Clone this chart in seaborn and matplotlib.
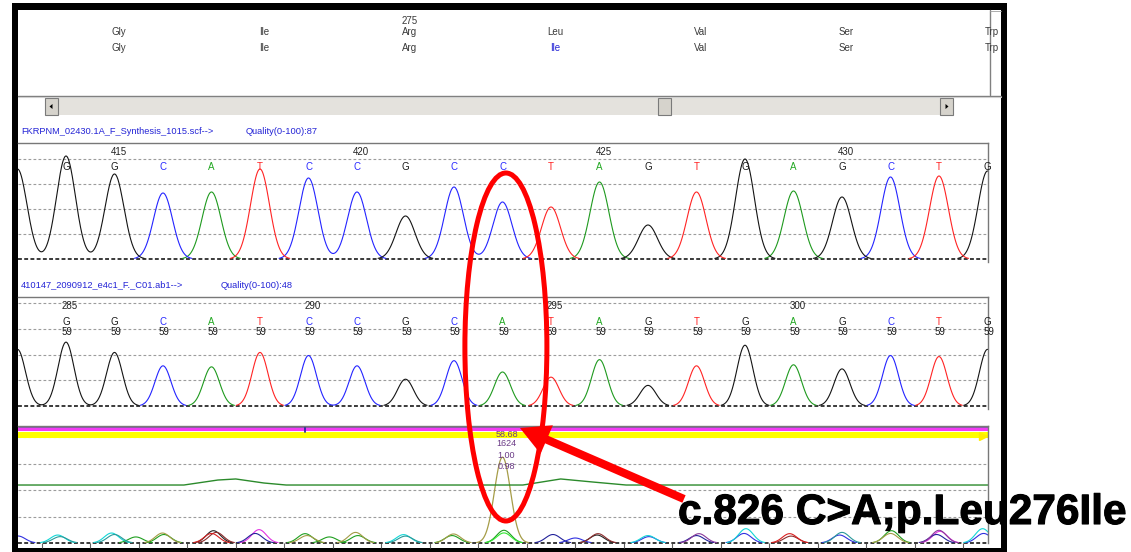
import numpy as np
import pandas as pd
import matplotlib
matplotlib.use("Agg")
import matplotlib.pyplot as plt
import matplotlib.transforms as mtransforms
import matplotlib.patheffects as pe
from matplotlib.patches import Rectangle, Ellipse, Polygon
import seaborn as sns

sns.set_theme(style="white")
plt.rcParams['font.family'] = ['Liberation Sans', 'DejaVu Sans']

# ---------------- data ----------------
aa_reference = ["Gly", "Ile", "Arg", "Leu", "Val", "Ser", "Trp"]
aa_sample = ["Gly", "Ile", "Arg", "Ile", "Val", "Ser", "Trp"]
aa_changed = [False, False, False, True, False, False, False]
aa_number = "275"
aa_number_codon = 2

ref_title = "FKRPNM_02430.1A_F_Synthesis_1015.scf-->"
ref_quality = "Quality(0-100):87"
ref_bases = list("GGCATCCGCCTAGTGAGCTG")
ref_heights = [1.03, 0.85, 0.66, 0.67, 0.90, 0.81, 0.67, 0.43, 0.72, 0.57,
               0.52, 0.77, 0.34, 0.67, 1.00, 0.68, 0.62, 0.82, 0.83, 0.88]
ref_lead = ("G", 0.90)
ref_ruler = [415, 420, 425, 430]
ref_ruler_idx = [1, 6, 11, 16]

smp_title = "410147_2090912_e4c1_F._C01.ab1-->"
smp_quality = "Quality(0-100):48"
smp_bases = list("GGCATCCGCATAGTGAGCTG")
smp_heights = [0.62, 0.52, 0.39, 0.38, 0.52, 0.49, 0.39, 0.26, 0.44, 0.33,
               0.28, 0.45, 0.20, 0.39, 0.59, 0.40, 0.36, 0.49, 0.48, 0.55]
smp_lead = ("G", 0.55)
smp_qv = [59] * 20
smp_ruler = [285, 290, 295, 300]
smp_ruler_idx = [0, 5, 10, 15]

mut_idx = 9
mut_stats = ["58.68", "1624", "1.00", "0.98"]
mut_peak_height = 0.81
green_x = [-1.0, 2.43, 3.13, 3.5, 4.08, 4.54, 9.42, 10.2, 10.87, 11.55, 19.1]
green_y = [0.547, 0.547, 0.594, 0.604, 0.566, 0.547, 0.547, 0.604, 0.575, 0.547, 0.547]

hump_pos = [-0.99, -0.17, -0.12, 0.94, 1.0, 1.44, 1.99, 2.02, 3.04, 3.0, 3.1, 3.98, 3.9,
            4.93, 4.97, 5.43, 5.97, 6.02, 6.96, 7.0, 7.99, 7.96, 9.03, 9.03, 10.04, 10.5,
            10.97, 10.95, 12.0, 12.02, 13.05, 13.0, 14.02, 13.98, 14.92, 14.95, 16.0, 15.95,
            17.02, 17.0, 18.0, 18.02, 17.95, 18.9, 18.92]
hump_h = [0.066, 0.075, 0.06, 0.094, 0.08, 0.057, 0.094, 0.08, 0.116, 0.09, 0.10, 0.126, 0.09,
          0.088, 0.07, 0.057, 0.10, 0.07, 0.079, 0.065, 0.085, 0.07, 0.12, 0.095, 0.08, 0.047,
          0.088, 0.075, 0.07, 0.06, 0.088, 0.07, 0.135, 0.09, 0.088, 0.065, 0.10, 0.075,
          0.116, 0.09, 0.12, 0.11, 0.08, 0.135, 0.09]
hump_col = ['blue', 'cyan', 'teal', 'cyan', 'teal', 'green', 'olive', 'green', 'black', 'red',
            'brown', 'magenta', 'navy', 'green', 'olive', 'green', 'olive', 'green', 'cyan', 'teal',
            'olive', 'green', 'green', 'lime', 'navy', 'blue', 'brown', 'black', 'cyan', 'blue',
            'purple', 'navy', 'cyan', 'blue', 'red', 'brown', 'teal', 'blue', 'green', 'olive',
            'purple', 'magenta', 'navy', 'cyan', 'blue']

annotation = "c.826 C>A;p.Leu276Ile"

# ---------------- styles ----------------
W, H = 1131, 552
X0, DX = 66.0, 48.5          # pixel of first base, pixel spacing per base
trace_pal = {"A": "#1f9a1f", "C": "#2424ff", "G": "#141414", "T": "#ff2424"}
letter_pal = {"A": "#22a822", "C": "#2a2aff", "G": "#1a1a1a", "T": "#ff2222"}
hump_pal = {'blue': '#3030e0', 'cyan': '#12d6d6', 'teal': '#2a9a9a', 'green': '#1f9f1f',
            'lime': '#33e833', 'olive': '#a39b45', 'black': '#222222', 'red': '#d82020',
            'brown': '#8c2c2c', 'magenta': '#e232e2', 'navy': '#22229a', 'purple': '#8a3a9a'}
label_blue = "#2424d6"


def idx(px):
    return (px - X0) / DX


fig = plt.figure(figsize=(W / 100, H / 100), dpi=100)

# ---------- background window chrome ----------
bg = fig.add_axes([0, 0, 1, 1], zorder=0)
bg.set_xlim(0, W)
bg.set_ylim(H, 0)
bg.axis('off')
for (x, y, w, h) in [(12, 3, 995, 7), (12, 3, 6, 549), (1001, 3, 6, 549), (12, 548, 995, 4)]:
    bg.add_patch(Rectangle((x, y), w, h, color='black', lw=0))
bg.plot([18, 1001], [95.5, 95.5], color='#7c7c7c', lw=1.0)
bg.plot([18, 1001], [96.8, 96.8], color='#d0d0d0', lw=0.8)
bg.plot([989.5, 989.5], [10, 95], color='#808080', lw=1.0)
bg.plot([989.5, 1001], [10.5, 10.5], color='#a0a0a0', lw=0.6)
bg.add_patch(Rectangle((45, 98), 908, 17, facecolor='#e4e2dd', lw=0))
for bx in (45, 658, 940):
    bg.add_patch(Rectangle((bx, 98), 13, 17, facecolor='#d6d3cc', edgecolor='#7a7a7a', lw=0.8))
bg.add_patch(Polygon([(49.5, 106.5), (52.5, 104), (52.5, 109)], color='black', lw=0))
bg.add_patch(Polygon([(945.5, 104), (945.5, 109), (948.5, 106.5)], color='black', lw=0))
bg.text(21, 131, ref_title, color=label_blue, fontsize=6.7, va='center')
bg.text(246, 131, ref_quality, color=label_blue, fontsize=6.7, va='center')
bg.text(21, 285, smp_title, color=label_blue, fontsize=6.7, va='center')
bg.text(221, 285, smp_quality, color=label_blue, fontsize=6.7, va='center')


def px_axes(px0, py0, px1, py1, zorder=2):
    return fig.add_axes([px0 / W, 1 - py1 / H, (px1 - px0) / W, (py1 - py0) / H], zorder=zorder)


def off(ax, dx=4):
    return mtransforms.offset_copy(ax.transData, fig=fig, x=dx, y=0, units='dots')


# ---------- amino acid translation panel ----------
aa_ax = px_axes(18, 10, 989, 95)
aa_ax.set_xlim(idx(18), idx(989))
aa_ax.set_ylim(95, 10)
aa_ax.axis('off')
for k, (r, s, ch) in enumerate(zip(aa_reference, aa_sample, aa_changed)):
    cx = 1 + 3 * k
    aa_ax.text(cx, 32, r, transform=off(aa_ax), ha='center', va='center', fontsize=7, color='#3a3a3a')
    aa_ax.text(cx, 48, s, transform=off(aa_ax), ha='center', va='center', fontsize=7,
               color=label_blue if ch else '#3a3a3a')
aa_ax.text(1 + 3 * aa_number_codon, 20.5, aa_number, transform=off(aa_ax), ha='center', va='center',
           fontsize=7, color='#3a3a3a')


# ---------- helpers for traces ----------
def peak_frame(centers, heights, keys, sigma, lo, hi, n=2000, thr=0.006):
    xs = np.linspace(lo, hi, n)
    frames = []
    seg = 0
    for key in sorted(set(keys)):
        y = np.zeros_like(xs)
        for c, h, kk in zip(centers, heights, keys):
            if kk == key:
                y += h * np.exp(-0.5 * ((xs - c) / sigma) ** 2)
        mask = y > thr
        start = np.diff(np.r_[0, mask.astype(int)]) == 1
        sid = np.cumsum(start)
        for s in np.unique(sid[mask]):
            m = mask & (sid == s)
            frames.append(pd.DataFrame({"x": xs[m], "y": y[m], "key": key, "seg": f"{key}_{seg}"}))
            seg += 1
    return pd.concat(frames, ignore_index=True)


def style_panel(ax):
    ax.set_facecolor('white')
    for s in ['left', 'bottom']:
        ax.spines[s].set_visible(False)
    for s in ['top', 'right']:
        ax.spines[s].set_visible(True)
        ax.spines[s].set_color('#787878')
        ax.spines[s].set_linewidth(1.0)
    ax.set_yticks([0.25, 0.5, 0.75, 1.0])
    ax.set_xticks([])
    ax.tick_params(left=False, labelleft=False, bottom=False, labelbottom=False)
    ax.grid(axis='y', color='#9c9c9c', ls=(0, (2.5, 2)), lw=0.8)
    ax.set_axisbelow(True)
    ax.axhline(0, color='#3a3a3a', ls=(0, (2, 1.2)), lw=1.4, clip_on=False, zorder=1)
    ax.set_xlabel('')
    ax.set_ylabel('')


def chromatogram(ax, bases, heights, lead, sigma, lo, hi):
    centers = list(range(-1, len(bases)))
    keys = [lead[0]] + list(bases)
    hs = [lead[1]] + list(heights)
    df = peak_frame(centers, hs, keys, sigma, lo, hi)
    sns.lineplot(data=df, x="x", y="y", hue="key", units="seg", estimator=None, sort=False,
                 palette=trace_pal, legend=False, lw=0.8, ax=ax)


# ---------- reference trace panel ----------
ax1 = px_axes(18, 143, 988, 262)
lo, hi = idx(18), idx(988)
chromatogram(ax1, ref_bases, ref_heights, ref_lead, 0.195, lo, hi)
ax1.set_xlim(lo, hi)
ax1.set_ylim((259 - 262) / 100, (259 - 143) / 100)
style_panel(ax1)
for i, b in enumerate(ref_bases):
    ax1.text(i, 0.92, b, color=letter_pal[b], ha='center', va='center', fontsize=7)
for n, i in zip(ref_ruler, ref_ruler_idx):
    ax1.text(i, 1.07, str(n), transform=off(ax1), ha='center', va='center', fontsize=7, color='#222222')

# ---------- sample trace panel ----------
ax2 = px_axes(18, 297, 988, 409)
chromatogram(ax2, smp_bases, smp_heights, smp_lead, 0.165, lo, hi)
ax2.set_xlim(lo, hi)
ax2.set_ylim((406 - 409) / 103, (406 - 297) / 103)
style_panel(ax2)
for i, (b, q) in enumerate(zip(smp_bases, smp_qv)):
    ax2.text(i, 0.816, b, color=letter_pal[b], ha='center', va='center', fontsize=7)
    ax2.text(i, 0.72, str(q), transform=off(ax2, 1), color='#1a1a1a', ha='center', va='center', fontsize=7)
for n, i in zip(smp_ruler, smp_ruler_idx):
    ax2.text(i, 0.97, str(n), transform=off(ax2), ha='center', va='center', fontsize=7, color='#222222')

# ---------- difference / quality panel ----------
ax3 = px_axes(18, 426, 988, 543)
hdf = peak_frame(hump_pos, hump_h, [f"{c}|{k}" for k, c in enumerate(hump_col)], 0.15, lo, hi, thr=0.004)
hdf["col"] = hdf["key"].str.split("|").str[0]
sns.lineplot(data=hdf, x="x", y="y", hue="col", units="seg", estimator=None, sort=False,
             palette=hump_pal, legend=False, lw=0.8, ax=ax3)
odf = peak_frame([mut_idx], [mut_peak_height], ["olive"], 0.165, lo, hi, thr=0.004)
sns.lineplot(data=odf, x="x", y="y", units="seg", estimator=None, sort=False,
             color='#a69d48', lw=0.9, ax=ax3)
sns.lineplot(x=green_x, y=green_y, color='#2b8a2b', lw=1.0, ax=ax3)
ax3.set_xlim(lo, hi)
ax3.set_ylim(0, (543 - 426) / 106)
style_panel(ax3)
ax3.axhspan(0.99, 1.045, color='#ffff00', lw=0, zorder=1.5)
ax3.axhline(1.072, color='#f23cf2', lw=2.2, zorder=1.6)
ax3.axhline(1.092, color='#8e4fae', lw=0.7, zorder=1.6)
ax3.plot([4.93, 4.93], [1.045, 1.10], color='#2a2aa0', lw=1.3, zorder=1.7)
ax3.plot([idx(983)], [1.01], marker='>', color='#ffee00', ms=6, clip_on=False, zorder=1.7)
ax3.set_xticks(np.arange(-0.5, 19.0, 1.0))
ax3.tick_params(bottom=True, direction='out', length=3.6, width=0.8, color='#606060', labelbottom=False)
for s, yv in zip(mut_stats, [1.028, 0.934, 0.83, 0.726]):
    ax3.text(mut_idx, yv, s, transform=off(ax3, 4), color='#6b3b86', ha='center', va='center',
             fontsize=6.5, zorder=3)

# ---------- overlay: highlight ellipse, arrow and label ----------
ov = fig.add_axes([0, 0, 1, 1], zorder=10)
ov.set_xlim(0, W)
ov.set_ylim(H, 0)
ov.axis('off')
blend = mtransforms.blended_transform_factory(ax2.transData, ov.transData)
ov.add_patch(Ellipse((mut_idx + 0.07, 347), width=82 / DX, height=348, transform=blend,
                     fill=False, edgecolor='#ff0000', lw=3.6))
ov.annotate('', xy=(mut_idx + 0.36, 1.085), xycoords=ax3.transData, xytext=(684, 499),
            textcoords='data',
            arrowprops=dict(arrowstyle='simple,head_length=1.5,head_width=1.6,tail_width=0.42',
                            mutation_scale=14, color='#ff0000', lw=0, shrinkA=0, shrinkB=0))
ov.text(678, 524, annotation, fontsize=30.5, fontweight='bold', va='baseline', ha='left',
        color='black', family=['Liberation Sans', 'DejaVu Sans'],
        path_effects=[pe.withStroke(linewidth=0.8, foreground='black')])

fig.savefig('out.png', dpi=100)
